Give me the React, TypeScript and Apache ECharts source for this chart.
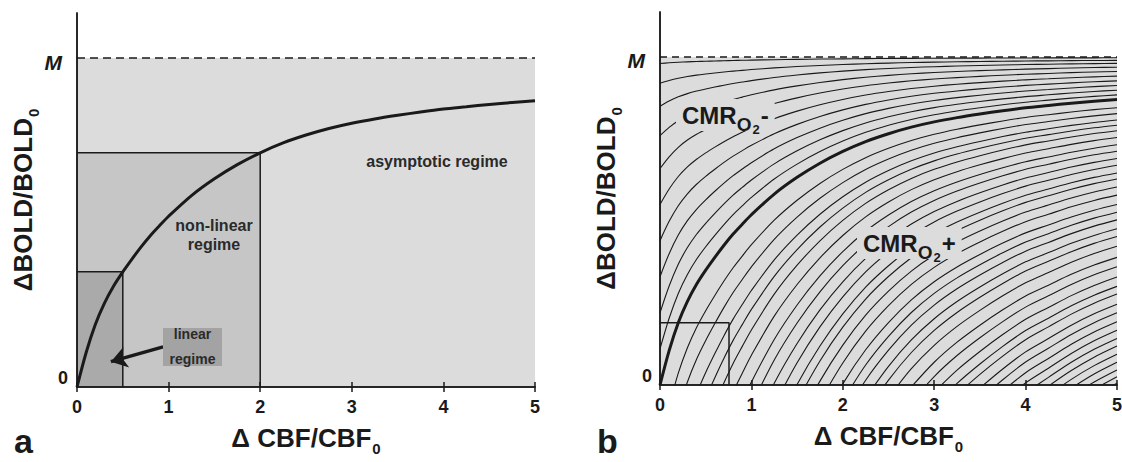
import { useEffect, useRef } from "react";
import * as echarts from "echarts";

// ---------------- data ----------------
const M = 1; // BOLD ceiling (dashed line), y is expressed in units of M
const Y_MAX = 1.137; // top of each frame, in units of M
const xTickLabels = ["0", "1", "2", "3", "4", "5"];
const yTickLabels = ["0", "M"];

// bold curve: ΔBOLD/BOLD0 against ΔCBF/CBF0 (same curve in both panels)
const curveX = [
  0, 0.1, 0.2, 0.3, 0.4, 0.5, 0.6, 0.7, 0.8, 0.9, 1.0, 1.25, 1.5, 1.75, 2.0, 2.25, 2.5, 2.75, 3.0, 3.25, 3.5, 3.75,
  4.0, 4.25, 4.5, 4.75, 5.0,
];
const curveY = [
  0, 0.105, 0.19, 0.255, 0.307, 0.35, 0.389, 0.426, 0.46, 0.49, 0.519, 0.582, 0.633, 0.676, 0.712, 0.742, 0.766,
  0.786, 0.802, 0.815, 0.826, 0.836, 0.845, 0.852, 0.859, 0.865, 0.87,
];

// panel a: regime boxes (x extent; their tops sit on the curve)
const linearRegimeX = 0.5;
const nonLinearRegimeX = 2.0;
// panel a: arrow from the "linear regime" label into the box
const arrowTail = [0.94, 0.122];
const arrowHead = [0.37, 0.077];

// panel b: small box
const boxBX = 0.755;
const boxBY = 0.19;

// panel b: iso-CMRO2 lines, given as the factor on the gap (M - curve) read per line
const isoMinus = [0.02, 0.08, 0.15, 0.24, 0.34, 0.45, 0.56, 0.67, 0.78, 0.89];
const isoPlus = [
  1.19, 1.33, 1.48, 1.6, 1.73, 1.89, 2.06, 2.21, 2.38, 2.54, 2.72, 2.86, 3.05, 3.24, 3.46, 3.64, 3.82, 4.03,
  4.21, 4.44, 4.7, 4.92, 5.16, 5.38, 5.56, 5.8, 6.0, 6.21, 6.41, 6.6, 6.78, 6.97, 7.16, 7.34, 7.5, 7.65,
];

// ---------------- styling ----------------
const FONT = "'Liberation Sans', Arial, Helvetica, sans-serif";
const INK = "#1a1a1a";
const LIGHT = "#dcdcdc";
const MID = "#c6c6c6";
const DARK = "#aaaaaa";
const LABEL_BG = "#a3a3a3";

const curve = curveX.map((x, i) => [x, curveY[i]]);
const yAt = (x: number) => curveY[curveX.indexOf(x)];

function isoLine(k: number) {
  const pts = curveX.map((x, i) => [x, M - k * (M - curveY[i])]);
  const first = pts.findIndex((p) => p[1] >= 0);
  return pts.slice(Math.max(0, first - 1));
}

const lineBase = {
  type: "line",
  symbol: "none",
  showSymbol: false,
  silent: true,
  animation: false,
  emphasis: { disabled: true },
};

const titleRich = {
  a: { fontFamily: FONT, fontSize: 26, fontWeight: "bold", color: INK, lineHeight: 28, verticalAlign: "top" },
  s: { fontFamily: FONT, fontSize: 15, fontWeight: "bold", color: INK, lineHeight: 15, verticalAlign: "top", padding: [16, 0, 0, 1] },
};

function xAxes(gridIndex: number) {
  const frame = { show: true, lineStyle: { color: INK, width: 1.5 } };
  const tick = { show: true, inside: true, length: 5, lineStyle: { color: INK, width: 1.5 } };
  return [
    {
      type: "value",
      gridIndex,
      position: "bottom",
      min: 0,
      max: 5,
      interval: 1,
      z: 10,
      axisLine: frame,
      axisTick: tick,
      splitLine: { show: false },
      axisLabel: {
        show: true,
        margin: 11,
        color: INK,
        fontFamily: FONT,
        fontSize: 18,
        fontWeight: "bold",
        lineHeight: 18,
        formatter: (v: number) => xTickLabels[Math.round(v)] ?? "",
      },
      name: "{a|Δ CBF/CBF}{s|0}",
      nameLocation: "middle",
      nameGap: 38,
      nameTextStyle: { rich: titleRich },
    },
    {
      type: "value",
      gridIndex,
      position: "top",
      min: 0,
      max: 5,
      interval: 1,
      z: 10,
      axisLine: frame,
      axisTick: tick,
      splitLine: { show: false },
      axisLabel: { show: false },
    },
  ];
}

function yAxes(gridIndex: number, mPad: number, margin: number) {
  const frame = { show: true, lineStyle: { color: INK, width: 1.5 } };
  return [
    {
      type: "value",
      gridIndex,
      position: "left",
      min: 0,
      max: Y_MAX,
      interval: 1,
      z: 10,
      axisLine: frame,
      axisTick: { show: false },
      splitLine: { show: false },
      axisLabel: {
        show: true,
        margin,
        showMaxLabel: false,
        formatter: (v: number) =>
          Math.abs(v) < 1e-9 ? `{z|${yTickLabels[0]}}` : Math.abs(v - M) < 1e-9 ? `{m|${yTickLabels[1]}}` : "",
        rich: {
          z: { fontFamily: FONT, fontSize: 18, fontWeight: "bold", color: INK, lineHeight: 18, padding: [0, 0, 18, 0] },
          m: {
            fontFamily: FONT,
            fontSize: 21,
            fontWeight: "bold",
            fontStyle: "italic",
            color: INK,
            lineHeight: 21,
            padding: [8, mPad, 0, 0],
          },
        },
      },
      name: "{a|ΔBOLD/BOLD}{s|0}",
      nameLocation: "middle",
      nameRotate: 90,
      nameGap: 34,
      nameTextStyle: { rich: titleRich },
    },
    {
      type: "value",
      gridIndex,
      position: "right",
      min: 0,
      max: Y_MAX,
      interval: 1,
      z: 10,
      axisLine: frame,
      axisTick: { show: false },
      splitLine: { show: false },
      axisLabel: { show: false },
    },
  ];
}

function buildOption() {
  const yLin = yAt(linearRegimeX);
  const yNon = yAt(nonLinearRegimeX);
  const A = { xAxisIndex: 0, yAxisIndex: 0 };
  const B = { xAxisIndex: 2, yAxisIndex: 2 };

  const series: any[] = [
    // ---------- panel a ----------
    { ...lineBase, ...A, z: 1, data: [[0, M], [5, M]], lineStyle: { width: 0 }, areaStyle: { color: LIGHT, opacity: 1 } },
    {
      ...lineBase,
      ...A,
      z: 2,
      data: [[0, yNon], [nonLinearRegimeX, yNon], [nonLinearRegimeX, 0]],
      lineStyle: { color: INK, width: 1.5 },
      areaStyle: { color: MID, opacity: 1 },
    },
    {
      ...lineBase,
      ...A,
      z: 3,
      data: [[0, yLin], [linearRegimeX, yLin], [linearRegimeX, 0]],
      lineStyle: { color: INK, width: 1.5 },
      areaStyle: { color: DARK, opacity: 1 },
    },
    { ...lineBase, ...A, z: 4, data: [[0, M], [5, M]], lineStyle: { color: INK, width: 1.5, type: [8, 5] } },
    {
      ...lineBase,
      ...A,
      z: 5,
      data: curve,
      smooth: 0.3,
      lineStyle: { color: INK, width: 3 },
    },
    {
      type: "lines",
      coordinateSystem: "cartesian2d",
      ...A,
      z: 6,
      silent: true,
      animation: false,
      polyline: false,
      symbol: ["none", "arrow"],
      symbolSize: 16,
      lineStyle: { color: INK, width: 3.5, opacity: 1 },
      data: [{ coords: [arrowTail, arrowHead] }],
    },
    // ---------- panel b ----------
    { ...lineBase, ...B, z: 1, data: [[0, M], [5, M]], lineStyle: { width: 0 }, areaStyle: { color: LIGHT, opacity: 1 } },
  ];

  [...isoMinus, ...isoPlus].forEach((k) => {
    series.push({ ...lineBase, ...B, z: 2, data: isoLine(k), smooth: 0.3, lineStyle: { color: INK, width: 1.1 } });
  });

  series.push(
    { ...lineBase, ...B, z: 3, data: [[0, boxBY], [boxBX, boxBY], [boxBX, 0]], lineStyle: { color: INK, width: 1.5 } },
    { ...lineBase, ...B, z: 4, data: [[0, M], [5, M]], lineStyle: { color: INK, width: 1.5, type: [7, 5] } },
    { ...lineBase, ...B, z: 5, data: curve, smooth: 0.3, lineStyle: { color: INK, width: 3 } }
  );

  const cmrRich = {
    a: { fontFamily: FONT, fontSize: 24, fontWeight: "bold", fill: INK, color: INK, lineHeight: 26, verticalAlign: "top" },
    o: { fontFamily: FONT, fontSize: 19, fontWeight: "bold", fill: INK, color: INK, lineHeight: 19, verticalAlign: "top", padding: [12, 0, 0, 0] },
    t: { fontFamily: FONT, fontSize: 13, fontWeight: "bold", fill: INK, color: INK, lineHeight: 13, verticalAlign: "top", padding: [20, 1, 0, 1] },
  };

  const graphic: any[] = [
    {
      type: "text",
      x: 437,
      y: 161,
      z: 100,
      silent: true,
      style: { text: "asymptotic regime", font: `bold 16px ${FONT}`, fill: "#2a2a2a", textAlign: "center", textVerticalAlign: "middle" },
    },
    {
      type: "text",
      x: 214,
      y: 235,
      z: 100,
      silent: true,
      style: {
        text: "non-linear\nregime",
        font: `bold 16px ${FONT}`,
        fill: "#2a2a2a",
        lineHeight: 19,
        textAlign: "center",
        textVerticalAlign: "middle",
      },
    },
    { type: "rect", z: 99, silent: true, shape: { x: 163, y: 328, width: 59, height: 38 }, style: { fill: LABEL_BG } },
    {
      type: "text",
      x: 192.5,
      y: 346,
      z: 100,
      silent: true,
      style: {
        text: "linear\nregime",
        font: `bold 14px ${FONT}`,
        fill: "#2a2a2a",
        lineHeight: 25,
        textAlign: "center",
        textVerticalAlign: "middle",
      },
    },
    {
      type: "text",
      x: 676,
      y: 99,
      z: 100,
      silent: true,
      style: {
        text: "{a|CMR}{o|O}{t|2}{a|-}",
        rich: cmrRich,
        backgroundColor: LIGHT,
        padding: [4, 6, 2, 6],
        textAlign: "left",
        textVerticalAlign: "top",
      },
    },
    {
      type: "text",
      x: 857,
      y: 227,
      z: 100,
      silent: true,
      style: {
        text: "{a|CMR}{o|O}{t|2}{a|+}",
        rich: cmrRich,
        backgroundColor: LIGHT,
        padding: [4, 6, 2, 6],
        textAlign: "left",
        textVerticalAlign: "top",
      },
    },
    {
      type: "text",
      x: 14,
      y: 441,
      z: 100,
      silent: true,
      style: { text: "a", font: `bold 34px ${FONT}`, lineHeight: 34, fill: INK, textAlign: "left", textVerticalAlign: "middle" },
    },
    {
      type: "text",
      x: 597,
      y: 441,
      z: 100,
      silent: true,
      style: { text: "b", font: `bold 34px ${FONT}`, lineHeight: 34, fill: INK, textAlign: "left", textVerticalAlign: "middle" },
    },
  ];

  return {
    animation: false,
    backgroundColor: "#ffffff",
    grid: [
      { left: 77, top: 13, width: 458, height: 374, show: false, outerBoundsMode: "none" },
      { left: 660, top: 12, width: 457, height: 373, show: false, outerBoundsMode: "none" },
    ],
    xAxis: [...xAxes(0), ...xAxes(1)],
    yAxis: [...yAxes(0, 6, 9), ...yAxes(1, 7, 8)],
    series,
    graphic,
  };
}

export default function App() {
  const ref = useRef<HTMLDivElement>(null);
  useEffect(() => {
    if (!ref.current) return;
    const chart = echarts.init(ref.current, null, { renderer: "svg" });
    chart.setOption(buildOption() as any);
    return () => chart.dispose();
  }, []);
  return (
    <div
      ref={ref}
      style={{ position: "absolute", left: 0, top: 0, width: 1122, height: 462, background: "#ffffff" }}
    />
  );
}
